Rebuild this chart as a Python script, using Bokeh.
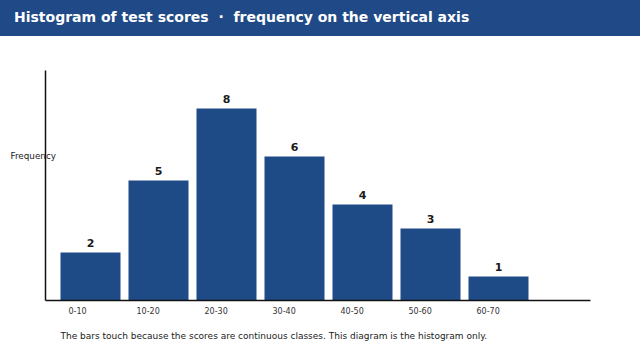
from bokeh.plotting import figure
from bokeh.models import Div, ColumnDataSource, Range1d
from bokeh.layouts import column
from bokeh.core.properties import value
from bokeh.embed import file_html
from bokeh.resources import INLINE

classes = ["0-10", "10-20", "20-30", "30-40", "40-50", "50-60", "60-70"]
frequency = [2, 5, 8, 6, 4, 3, 1]

title_text = "Histogram of test scores&nbsp;&nbsp;\u00b7&nbsp;&nbsp;frequency on the vertical axis"
y_title = "Frequency"
footnote = "The bars touch because the scores are continuous classes. This diagram is the histogram only."

BAR = "#1e4a85"
HEAD = "#1f4a87"
FONT = value("DejaVu Sans")

# pixel geometry helpers (the frame fills the whole canvas under the header)
PX_PER_X = 68.0      # one class step
PX_PER_Y = 24.0      # one unit of frequency
X0_PX = 90.0         # canvas x of first bar centre
Y0_PX = 300.0 - 36   # canvas y of the baseline
W, H = 640, 324

def xd(px):
    return (px - X0_PX) / PX_PER_X

def yd(py):
    return (Y0_PX - py) / PX_PER_Y

idx = list(range(len(classes)))
src = ColumnDataSource(dict(x=idx, top=frequency, lab=[str(v) for v in frequency],
                            left=[i - 30 / PX_PER_X for i in idx], cls=classes,
                            base=[0] * len(idx)))

header = Div(
    text=f"<div style='font-family:\"DejaVu Sans\";font-weight:bold;font-size:14px;color:white;"
         f"padding:7px 0 0 14px;white-space:nowrap;'>{title_text}</div>",
    width=640, height=36,
    styles={"background-color": HEAD, "margin": "0", "padding": "0"},
)

p = figure(width=W, height=H, output_backend="svg", toolbar_location=None,
           x_range=Range1d(xd(0), xd(W)), y_range=Range1d(yd(H), yd(0)),
           x_axis_type=None, y_axis_type=None,
           min_border_left=0, min_border_right=0, min_border_top=0, min_border_bottom=0)
p.outline_line_color = None
p.grid.visible = False
p.background_fill_color = "white"
p.border_fill_color = "white"

p.vbar(x="x", top="top", width=60 / PX_PER_X, source=src, color=BAR, line_color=None)
p.text(x="x", y="top", text="lab", source=src, text_align="center", text_baseline="bottom",
       y_offset=-6, text_font=FONT, text_font_size="11px", text_font_style="bold",
       text_color="#1a1a1a")

# axes lines
p.segment(x0=[xd(45)], y0=[0], x1=[xd(590)], y1=[0], line_color="#111111", line_width=1.5)
p.segment(x0=[xd(45)], y0=[0], x1=[xd(45)], y1=[yd(70 - 36)], line_color="#111111", line_width=1.5)

# class labels under the bars
p.text(x="left", y="base", text="cls", source=src, text_align="left", text_baseline="middle",
       x_offset=8, y_offset=10, text_font=FONT, text_font_size="8px", text_color="#333333")

p.text(x=[xd(10)], y=[yd(155 - 36)], text=[y_title], text_align="left", text_baseline="middle",
       text_font=FONT, text_font_size="8.8px", text_color="#222222")
p.text(x=[xd(60)], y=[yd(335 - 36)], text=[footnote], text_align="left", text_baseline="middle",
       text_font=FONT, text_font_size="9px", text_color="#222222")

layout = column(header, p, spacing=0)
open("out.html", "w").write(file_html(layout, INLINE))
